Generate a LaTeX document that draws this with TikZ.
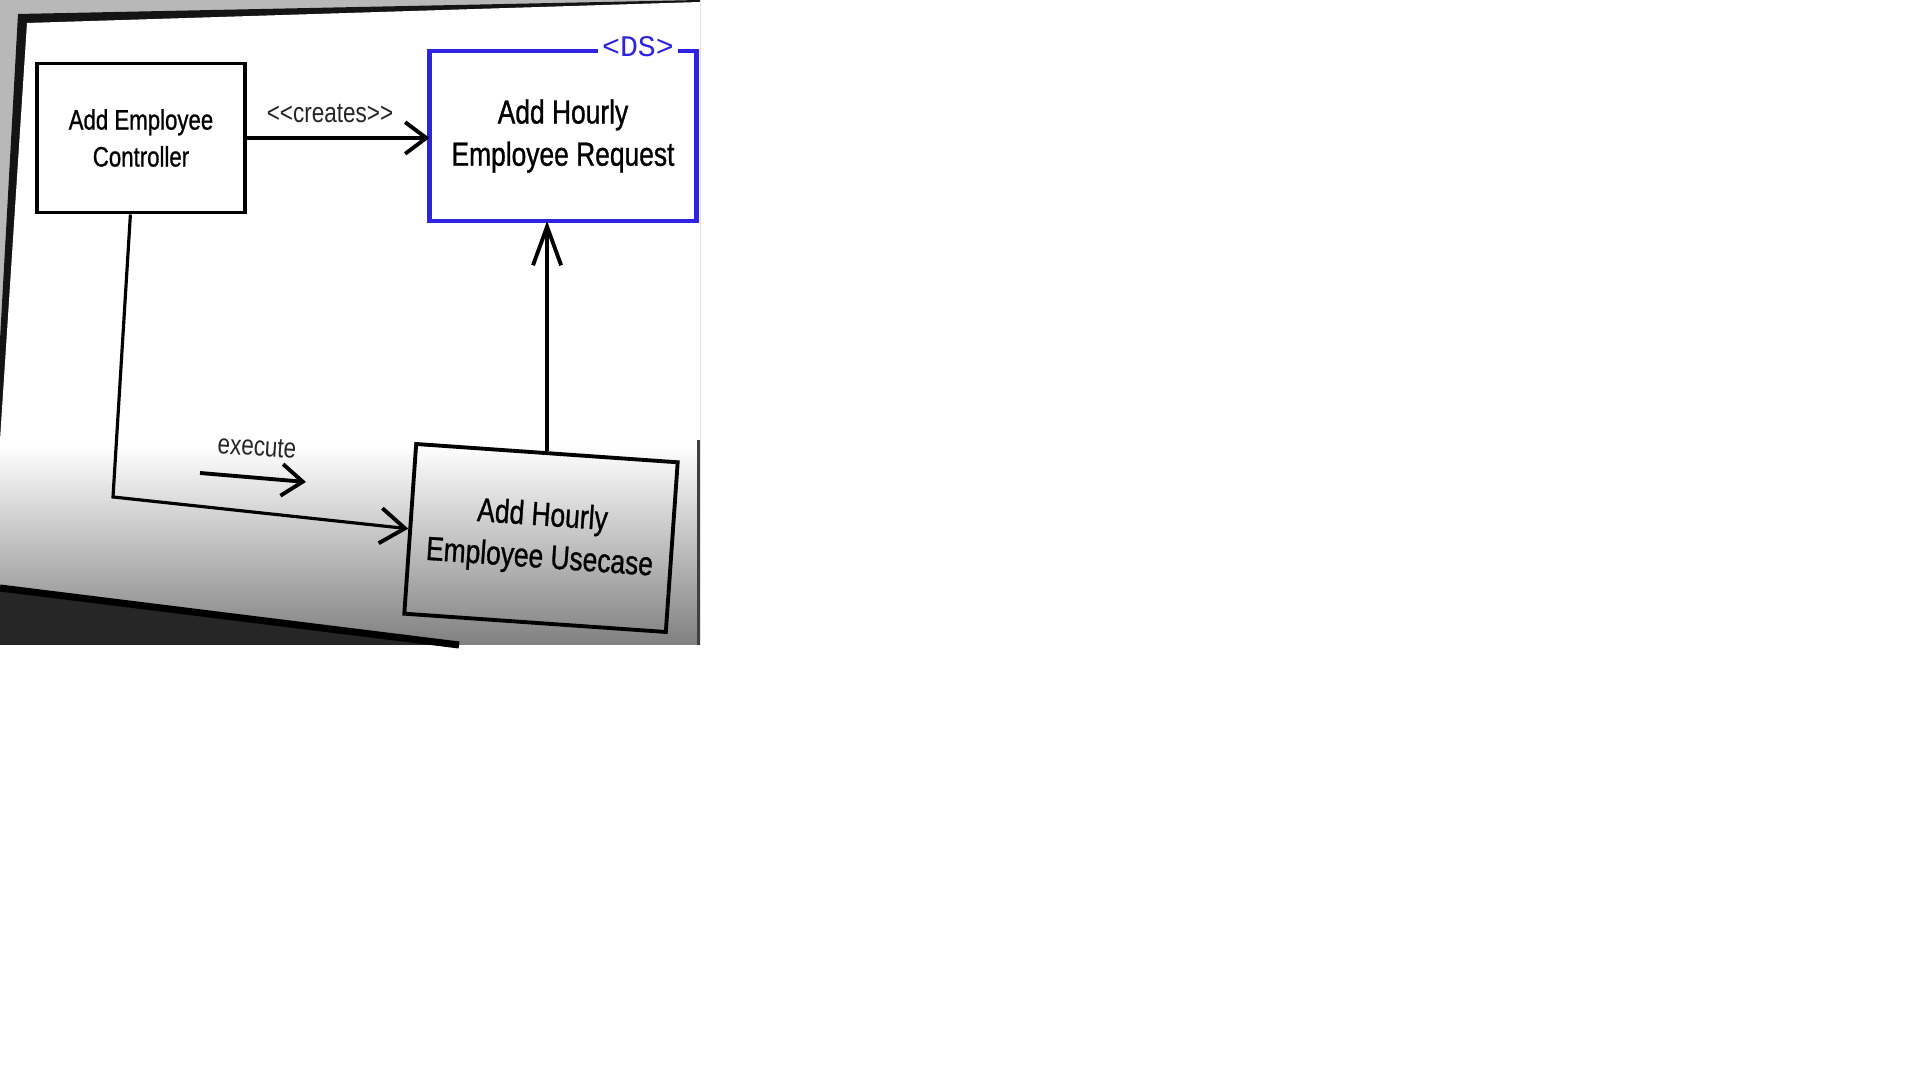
\documentclass[tikz,border=0pt]{standalone}
\usepackage{fontspec}
\setmainfont{Liberation Sans}[FakeStretch=0.8]
\newfontfamily\boxfont{Liberation Sans}[FakeStretch=0.79,FakeBold=0.9]
\newfontfamily\dsfont{Liberation Mono}
\usetikzlibrary{arrows.meta,calc}
\definecolor{dsblue}{RGB}{45,35,225}
\begin{document}
\begin{tikzpicture}[x=0.01cm,y=-0.01cm,
  box/.style={line width=1.1pt,align=center,inner sep=0pt},
  conn/.style={line width=0.9pt,-{Straight Barb[length=6pt,width=9pt,line width=1.1pt]}},
  lbl/.style={font=\fontsize{8}{9}\selectfont,inner sep=1pt,text=black!85}]
\useasboundingbox (0,0) rectangle (1920,1080);
% photographed screen background
\fill[black!28] (0,0) rectangle (700,645);
\fill[black!92] (18,14) -- (700,0) -- (700,645) -- (0,645) -- (0,340) -- cycle;
\begin{scope}
  \clip (27,23) -- (700,2) -- (700,645) -- (0,645) -- (0,440) -- cycle;
  \fill[white] (0,0) rectangle (700,446);
  \shade[top color=white,bottom color=black!50] (0,445) rectangle (700,646);
\end{scope}
\fill[black!85] (0,588) -- (459,645) -- (0,645) -- cycle;
\draw[black,line width=2pt] (0,588) -- (459,645);
\fill[black!75] (697,440) rectangle (700,645);
% nodes
\node[box,draw,minimum width=2.08cm,minimum height=1.49cm,
  font=\boxfont\fontsize{8}{10.5}\selectfont] (ctrl) at (141,138) {Add Employee\\Controller};
\node[box,minimum width=2.63cm,minimum height=1.66cm,
  font=\boxfont\fontsize{9.5}{12}\selectfont] (req) at (563,136) {Add Hourly\\Employee Request};
\node[font=\dsfont\fontsize{8.5}{9}\selectfont,text=dsblue,inner sep=1pt] (ds) at (638,47) {<DS>};
\draw[dsblue,line width=1.2pt] (ds.west |- req.north) -- (req.north west) -- (req.south west)
  -- (req.south east) -- (req.north east) -- (ds.east |- req.north);
\node[box,draw,rotate=-4,minimum width=2.62cm,minimum height=1.70cm,
  font=\boxfont\fontsize{9.5}{12}\selectfont] (uc) at (541,538) {Add Hourly\\Employee Usecase};
% connectors
\draw[conn] (ctrl.east) -- (ctrl.east -| req.west);
\node[lbl] (creates) at (330,114) {{<}{<}creates{>}{>}};
\draw[line width=0.9pt,-{Straight Barb[length=11pt,width=8pt,line width=1.1pt]}]
  (uc.north) -- (uc.north |- req.south);
\coordinate (ex1) at ($(ctrl.south west)!0.45!(ctrl.south east)$);
\coordinate (excorner) at (113,497);
\draw[line width=0.9pt,-{Straight Barb[length=7pt,width=10pt,line width=1.1pt]}]
  (ex1) -- (excorner) -- (uc.west);
\node[lbl,rotate=-4] (execute) at (257,447) {execute};
\coordinate (ea) at (200,473);
\coordinate (eb) at (306,482);
\draw[line width=1.1pt,-{Straight Barb[length=6pt,width=9pt,line width=1.1pt]}] (ea) -- (eb);
\end{tikzpicture}
\end{document}
